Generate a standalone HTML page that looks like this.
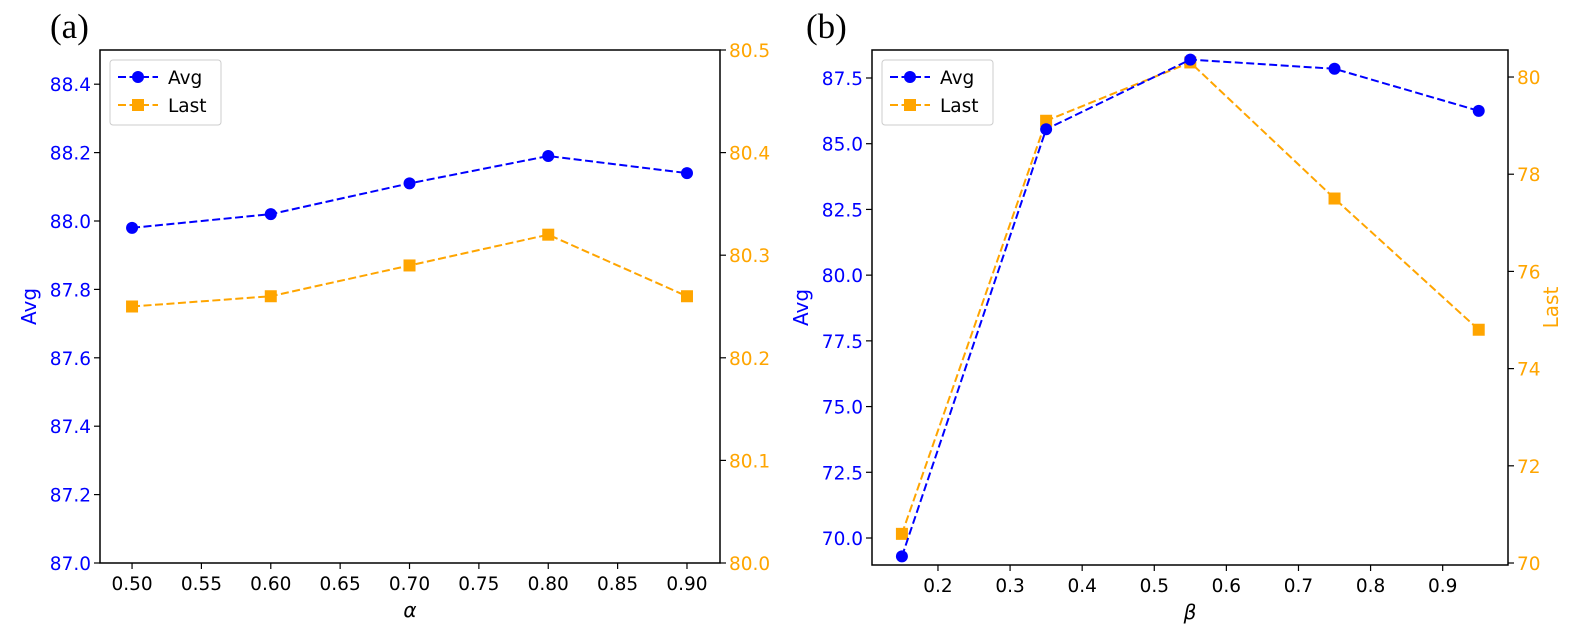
<!DOCTYPE html>
<html><head><meta charset="utf-8">
<style>
body{margin:0;background:#fff;}
svg{display:block;font-family:"DejaVu Sans","Liberation Sans",sans-serif;}
</style></head>
<body>
<svg id="fig" width="1577" height="632" viewBox="0 0 1577 632"></svg>
<script>
// Panel (a) data
const alphaX = [0.5, 0.6, 0.7, 0.8, 0.9];
const alphaAvg = [87.98, 88.02, 88.11, 88.19, 88.14];
const alphaLast = [80.25, 80.26, 80.29, 80.32, 80.26];
const alphaXTicks = [0.5, 0.55, 0.6, 0.65, 0.7, 0.75, 0.8, 0.85, 0.9];
const alphaLeftTicks = [87.0, 87.2, 87.4, 87.6, 87.8, 88.0, 88.2, 88.4];
const alphaRightTicks = [80.0, 80.1, 80.2, 80.3, 80.4, 80.5];
// Panel (b) data
const betaX = [0.15, 0.35, 0.55, 0.75, 0.95];
const betaAvg = [69.3, 85.55, 88.2, 87.85, 86.25];
const betaLast = [70.6, 79.1, 80.3, 77.5, 74.8];
const betaXTicks = [0.2, 0.3, 0.4, 0.5, 0.6, 0.7, 0.8, 0.9];
const betaLeftTicks = [70.0, 72.5, 75.0, 77.5, 80.0, 82.5, 85.0, 87.5];
const betaRightTicks = [70, 72, 74, 76, 78, 80];

const NS = "http://www.w3.org/2000/svg";
const svg = document.getElementById('fig');
function mk(tag, attrs, parent, text){
  const e = document.createElementNS(NS, tag);
  for (const k in attrs) e.setAttribute(k, attrs[k]);
  if (text !== undefined) e.textContent = text;
  (parent || svg).appendChild(e);
  return e;
}
const BLUE = '#0000ff', ORANGE = '#ffa500';
const FS = 18.5;

function panel(cfg){
  const g = mk('g', {});
  
  
  const sx = v => cfg.x0 + (v - cfg.xd[0]) / (cfg.xd[1] - cfg.xd[0]) * (cfg.x1 - cfg.x0);
  const sl = v => cfg.y1 - (v - cfg.ld[0]) / (cfg.ld[1] - cfg.ld[0]) * (cfg.y1 - cfg.y0);
  const sr = v => cfg.y1 - (v - cfg.rd[0]) / (cfg.rd[1] - cfg.rd[0]) * (cfg.y1 - cfg.y0);
  const lt = mk('text', {x: cfg.lx, y: 38, 'font-family': '"Liberation Serif",serif', 'font-size': 35, fill: '#000'}, g, cfg.letter);
  
  
  const fr = mk('rect', {x: cfg.x0, y: cfg.y0, width: cfg.x1 - cfg.x0, height: cfg.y1 - cfg.y0, fill: 'none', stroke: '#000', 'stroke-width': 1.5}, g);
  
  
  cfg.xt.forEach(t => {
    const x = sx(t);
    mk('line', {x1: x, x2: x, y1: cfg.y1, y2: cfg.y1 + 6, stroke: '#000', 'stroke-width': 1.2}, g);
    const tx = mk('text', {x: x, y: cfg.y1 + 27, 'text-anchor': 'middle', 'font-size': FS, fill: '#000'}, g, t.toFixed(cfg.xdp));
    
    
  });
  cfg.lt.forEach(t => {
    const y = sl(t);
    mk('line', {x1: cfg.x0 - 6, x2: cfg.x0, y1: y, y2: y, stroke: '#000', 'stroke-width': 1.2}, g);
    const tx = mk('text', {x: cfg.x0 - 9, y: y + 7, 'text-anchor': 'end', 'font-size': FS, fill: BLUE}, g, t.toFixed(1));
    
    
  });
  cfg.rt.forEach(t => {
    const y = sr(t);
    mk('line', {x1: cfg.x1, x2: cfg.x1 + 6, y1: y, y2: y, stroke: '#000', 'stroke-width': 1.2}, g);
    const tx = mk('text', {x: cfg.x1 + 9, y: y + 7, 'text-anchor': 'start', 'font-size': FS, fill: ORANGE}, g, t.toFixed(cfg.rdp));
    
    
  });
  const xl = mk('text', {x: (cfg.x0 + cfg.x1) / 2, y: cfg.y1 + 54, 'text-anchor': 'middle', 'font-size': 20, 'font-style': 'italic', fill: '#000'}, g, cfg.xlabel);
  
  
  const cy = (cfg.y0 + cfg.y1) / 2;
  const yl = mk('text', {x: cfg.ylx, y: cy, 'text-anchor': 'middle', 'font-size': 20, fill: BLUE, transform: `rotate(-90 ${cfg.ylx} ${cy})`}, g, 'Avg');
  
  
  if (cfg.showRight){
    const yr = mk('text', {x: cfg.yrx, y: cy, 'text-anchor': 'middle', 'font-size': 20, fill: ORANGE, transform: `rotate(-90 ${cfg.yrx} ${cy})`}, g, 'Last');
    
    
  }
  const lastPts = cfg.xs.map((x, i) => [sx(x), sr(cfg.last[i])]);
  const avgPts = cfg.xs.map((x, i) => [sx(x), sl(cfg.avg[i])]);
  const lp = mk('polyline', {points: lastPts.map(p => p.join(',')).join(' '), fill: 'none', stroke: ORANGE, 'stroke-width': 2, 'stroke-dasharray': '8,3.5'}, g);
  
  
  lastPts.forEach(p => {
    const m = mk('rect', {x: p[0] - 6, y: p[1] - 6, width: 12, height: 12, fill: ORANGE}, g);
    
    
  });
  const ap = mk('polyline', {points: avgPts.map(p => p.join(',')).join(' '), fill: 'none', stroke: BLUE, 'stroke-width': 2, 'stroke-dasharray': '8,3.5'}, g);
  
  
  avgPts.forEach(p => {
    const m = mk('circle', {cx: p[0], cy: p[1], r: 6, fill: BLUE}, g);
    
    
  });
  const lg = mk('g', {}, g);
  
  
  const lx = cfg.x0 + 10, ly = cfg.y0 + 10;
  mk('rect', {x: lx, y: ly, width: 111, height: 65, rx: 3, fill: '#fff', stroke: '#ccc'}, lg);
  mk('line', {x1: lx + 8, x2: lx + 48, y1: ly + 17, y2: ly + 17, stroke: BLUE, 'stroke-width': 2, 'stroke-dasharray': '8,3.5'}, lg);
  mk('circle', {cx: lx + 28, cy: ly + 17, r: 6, fill: BLUE}, lg);
  const t1 = mk('text', {x: lx + 58, y: ly + 24, 'font-size': FS, fill: '#000'}, lg, 'Avg');
  
  
  mk('line', {x1: lx + 8, x2: lx + 48, y1: ly + 45, y2: ly + 45, stroke: ORANGE, 'stroke-width': 2, 'stroke-dasharray': '8,3.5'}, lg);
  mk('rect', {x: lx + 22, y: ly + 39, width: 12, height: 12, fill: ORANGE}, lg);
  const t2 = mk('text', {x: lx + 58, y: ly + 52, 'font-size': FS, fill: '#000'}, lg, 'Last');
  
  
}

panel({name: 'panel-a', letter: '(a)', lx: 50, x0: 100, x1: 720, y0: 50, y1: 563,
  xd: [0.4769, 0.9238], xs: alphaX, avg: alphaAvg, last: alphaLast,
  ld: [87.0, 88.5], rd: [80.0, 80.5], xt: alphaXTicks, lt: alphaLeftTicks, rt: alphaRightTicks,
  xdp: 2, rdp: 1, xlabel: 'α', ylx: 36, showRight: false});

panel({name: 'panel-b', letter: '(b)', lx: 806, x0: 872, x1: 1508, y0: 50, y1: 565,
  xd: [0.1085, 0.9906], xs: betaX, avg: betaAvg, last: betaLast,
  ld: [68.973, 88.565], rd: [69.959, 80.556], xt: betaXTicks, lt: betaLeftTicks, rt: betaRightTicks,
  xdp: 1, rdp: 0, xlabel: 'β', ylx: 808, yrx: 1558, showRight: true});
</script>
</body></html>
